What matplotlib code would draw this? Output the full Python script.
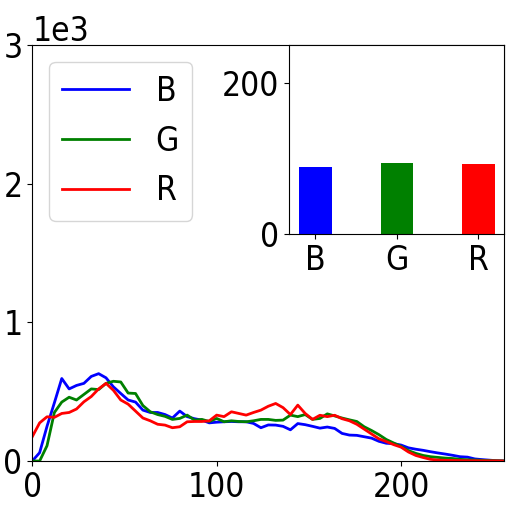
import matplotlib
matplotlib.use('Agg')
import matplotlib.pyplot as plt

plt.rcParams['font.family'] = ['DejaVu Sans Condensed', 'Liberation Sans Narrow', 'DejaVu Sans']
plt.rcParams['font.stretch'] = 'condensed'
plt.rcParams['font.size'] = 24

channels = ['B', 'G', 'R']
colors = ['blue', 'green', 'red']

# intensity bins sampled every 4 levels
bins = list(range(0, 256, 4)) + [255]

hist_b = [0, 60, 250, 420, 595, 520, 545, 560, 610, 630, 600, 535, 487, 440, 425, 367,
          350, 350, 335, 310, 360, 320, 305, 295, 275, 280, 283, 285, 283, 283, 271, 240,
          260, 259, 250, 225, 270, 262, 250, 237, 245, 235, 199, 187, 185, 175, 165, 142,
          128, 125, 115, 95, 85, 77, 67, 58, 50, 41, 31, 28, 15, 10, 6, 2, 1]
hist_g = [0, 0, 110, 350, 425, 460, 440, 480, 520, 515, 560, 575, 570, 490, 487, 400,
          355, 335, 322, 300, 307, 331, 295, 300, 285, 307, 283, 290, 285, 283, 290, 300,
          300, 293, 295, 331, 320, 335, 300, 307, 340, 325, 310, 297, 285, 247, 220, 190,
          155, 130, 105, 75, 55, 40, 31, 26, 21, 18, 12, 9, 7, 5, 3, 2, 1]
hist_r = [175, 275, 319, 315, 343, 350, 375, 427, 465, 520, 560, 510, 440, 410, 360, 310,
          290, 265, 259, 240, 247, 283, 285, 285, 290, 331, 320, 355, 343, 331, 350, 367,
          395, 415, 385, 335, 403, 343, 300, 330, 320, 330, 305, 290, 265, 230, 195, 160,
          140, 118, 100, 65, 40, 25, 12, 7, 5, 4, 3, 2, 2, 1, 1, 1, 0]

means = [89, 94, 92.5]

fig = plt.figure(figsize=(5.12, 5.12), dpi=100)
ax = fig.add_axes([0.063, 0.0996, 0.922, 0.8124])
for h, c, name in zip([hist_b, hist_g, hist_r], colors, channels):
    ax.plot(bins, h, color=c, lw=2, label=name)
ax.set_xlim(0, 256)
ax.set_ylim(0, 3000)
ax.set_yticks([0, 1000, 2000, 3000])
ax.ticklabel_format(style='sci', axis='y', scilimits=(0, 0))
ax.legend(loc='upper left')

ins = fig.add_axes([0.565, 0.543, 0.42, 0.3686])
ins.bar(channels, means, width=0.4, color=colors)
ins.set_ylim(0, 250)
ins.set_yticks([0, 200])

plt.savefig('out.png', dpi=100)
